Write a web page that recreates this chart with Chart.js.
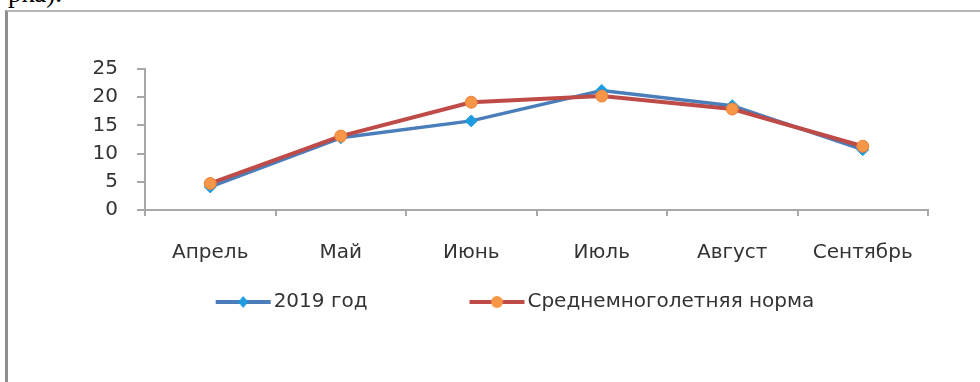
<!DOCTYPE html>
<html>
<head>
<meta charset="utf-8">
<script src="https://cdn.jsdelivr.net/npm/chart.js@4"></script>
<style>
  html, body { margin: 0; padding: 0; background: #fff; width: 980px; height: 382px; overflow: hidden; }
  #caption { position: absolute; left: 8px; top: -20px; font: 27px/27px 'Liberation Serif', serif; color: #000; white-space: nowrap; }
  #frame { position: absolute; left: 5px; top: 10px; width: 1000px; height: 400px; border-left: 3px solid #8e8e8e; border-top: 2px solid #b4b4b4; }
  #chart { position: absolute; left: 0; top: 0; }
</style>
</head>
<body>
<div id="caption">рка).</div>
<div id="frame"></div>
<canvas id="chart" width="980" height="382"></canvas>
<script>
const months = ['Апрель', 'Май', 'Июнь', 'Июль', 'Август', 'Сентябрь'];
const year2019 = [4.1, 12.8, 15.8, 21.2, 18.5, 10.7];
const longTermNorm = [4.7, 13.1, 19.1, 20.2, 17.9, 11.3];
const seriesNames = ['2019 год', 'Среднемноголетняя норма'];
const yMin = 0;
const yMax = 25;
const yStep = 5;

const BLUE_LINE = '#4a7ebb';
const BLUE_MARK = '#1d9ce0';
const RED_LINE = '#be4b48';
const ORANGE_MARK = '#f79646';
const AXIS = '#a8a8a8';
const TEXT = '#333333';

// legend swatch: a short line with the series marker, drawn at the right end of the image
const SWATCH_W = 150;
function makeSwatch(lineColor, markColor, diamond) {
  const c = document.createElement('canvas');
  c.width = SWATCH_W + 16;
  c.height = 16;
  const g = c.getContext('2d');
  const x0 = c.width - 56, x1 = c.width - 1, cy = 8;
  g.strokeStyle = lineColor;
  g.lineWidth = 4;
  g.beginPath();
  g.moveTo(x0, cy);
  g.lineTo(x1, cy);
  g.stroke();
  const mx = (x0 + x1) / 2;
  g.fillStyle = markColor;
  g.beginPath();
  if (diamond) {
    g.moveTo(mx, cy - 6); g.lineTo(mx + 5, cy); g.lineTo(mx, cy + 6); g.lineTo(mx - 5, cy);
    g.closePath();
  } else {
    g.arc(mx, cy, 6, 0, Math.PI * 2);
  }
  g.fill();
  return c;
}
const swatches = [
  makeSwatch(BLUE_LINE, BLUE_MARK, true),
  makeSwatch(RED_LINE, ORANGE_MARK, false),
];

Chart.defaults.font.family = "'DejaVu Sans', sans-serif";
Chart.defaults.font.size = 20;
Chart.defaults.color = TEXT;

new Chart(document.getElementById('chart'), {
  type: 'line',
  data: {
    labels: months,
    datasets: [
      {
        label: seriesNames[0],
        data: year2019,
        borderColor: BLUE_LINE,
        borderWidth: 3.5,
        pointStyle: 'rectRot',
        pointRadius: 6,
        pointBackgroundColor: BLUE_MARK,
        pointBorderColor: BLUE_MARK,
        pointBorderWidth: 1,
        tension: 0,
        order: 2,
      },
      {
        label: seriesNames[1],
        data: longTermNorm,
        borderColor: RED_LINE,
        borderWidth: 4,
        pointStyle: 'circle',
        pointRadius: 6,
        pointBackgroundColor: ORANGE_MARK,
        pointBorderColor: '#e9823a',
        pointBorderWidth: 1,
        tension: 0,
        order: 1,
      },
    ],
  },
  options: {
    responsive: false,
    animation: false,
    devicePixelRatio: 1,
    layout: { padding: { top: 69, left: 0, right: 52, bottom: 60 } },
    plugins: {
      tooltip: { enabled: false },
      legend: {
        position: 'bottom',
        align: 'center',
        labels: {
          usePointStyle: true,
          pointStyleWidth: SWATCH_W,
          boxHeight: 16,
          padding: 0,
          color: TEXT,
          font: { size: 20 },
          generateLabels(chart) {
            const items = Chart.defaults.plugins.legend.labels.generateLabels(chart);
            items.sort((a, b) => a.datasetIndex - b.datasetIndex);
            items.forEach(it => { it.pointStyle = swatches[it.datasetIndex]; });
            return items;
          },
        },
      },
    },
    scales: {
      x: {
        offset: true,
        grid: { offset: true, drawOnChartArea: false, color: AXIS, lineWidth: 2, tickLength: 6 },
        border: { color: AXIS, width: 2 },
        ticks: { padding: 25, color: TEXT, font: { size: 20 }, maxRotation: 0 },
        afterFit(scale) { scale.height = 82; },
      },
      y: {
        min: yMin,
        max: yMax,
        grid: { drawOnChartArea: false, color: AXIS, lineWidth: 2, tickLength: 8 },
        border: { color: AXIS, width: 2 },
        ticks: { stepSize: yStep, padding: 19, color: TEXT, font: { size: 20 } },
        afterFit(scale) { scale.width = 145; },
      },
    },
  },
});
</script>
</body>
</html>
